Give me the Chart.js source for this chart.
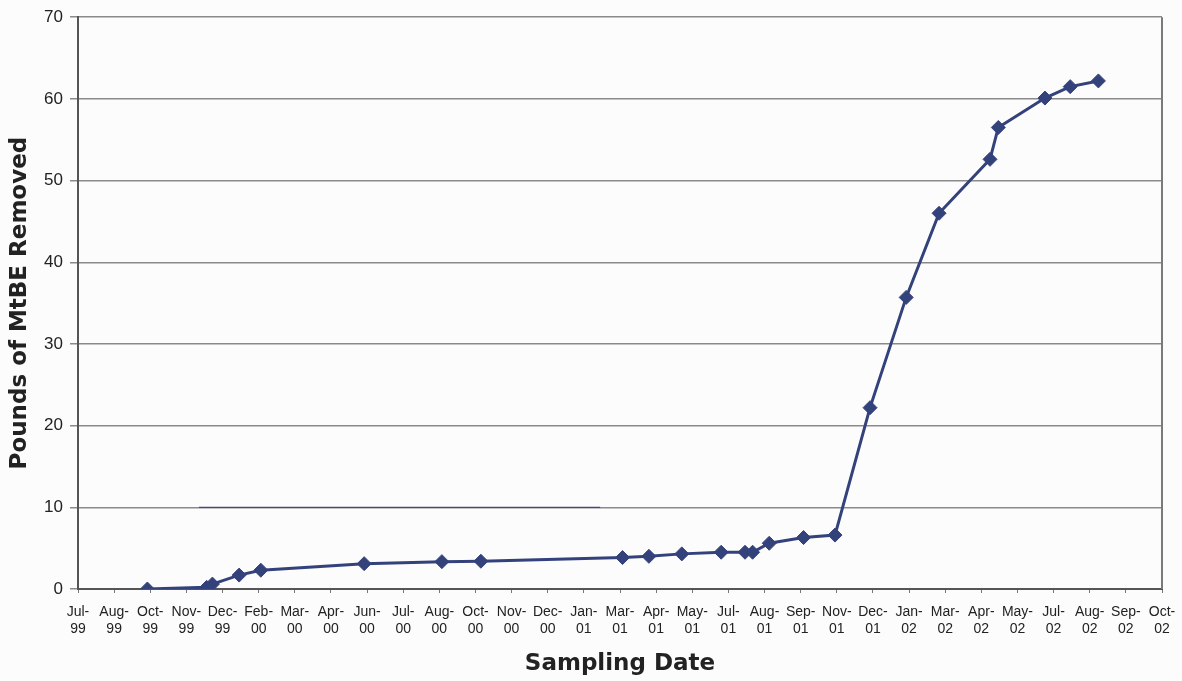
<!DOCTYPE html>
<html>
<head>
<meta charset="utf-8">
<script src="https://cdn.jsdelivr.net/npm/chart.js@4/dist/chart.umd.min.js"></script>
<style>
  html, body { margin: 0; padding: 0; background: #fcfcfc; }
  #wrap { width: 1182px; height: 681px; }
</style>
</head>
<body>
<div id="wrap"><canvas id="c" width="1182" height="681"></canvas></div>
<script>
// Tick labels for the date axis (one per major unit, evenly spaced)
const tickMonths = ["Jul","Aug","Oct","Nov","Dec","Feb","Mar","Apr","Jun","Jul","Aug","Oct","Nov","Dec","Jan","Mar","Apr","May","Jul","Aug","Sep","Nov","Dec","Jan","Mar","Apr","May","Jul","Aug","Sep","Oct"];
const tickYears  = ["99","99","99","99","99","00","00","00","00","00","00","00","00","00","01","01","01","01","01","01","01","01","01","02","02","02","02","02","02","02","02"];

// Sampling positions (in tick-interval units from Jul-99) and cumulative pounds removed
const sampleX = [1.92, 3.56, 3.72, 4.46, 5.06, 7.92, 10.07, 11.15, 15.07, 15.80, 16.71, 17.80, 18.46, 18.67, 19.13, 20.08, 20.95, 21.92, 22.92, 23.83, 25.24, 25.47, 26.76, 27.46, 28.24];
const poundsRemoved = [0.0, 0.2, 0.6, 1.7, 2.3, 3.1, 3.35, 3.4, 3.85, 4.0, 4.3, 4.5, 4.5, 4.5, 5.6, 6.3, 6.6, 22.2, 35.7, 46.0, 52.6, 56.5, 60.1, 61.5, 62.2];

// Stray blue rule visible on the 10 lb gridline of the scanned original
const strayX = [3.35, 14.45];
const strayY = [10, 10];

const yTicks = [0, 10, 20, 30, 40, 50, 60, 70];

const navy = '#34427c';

const frame = {
  id: 'frame',
  afterDraw(chart) {
    const a = chart.chartArea, ctx = chart.ctx;
    ctx.save();
    ctx.strokeStyle = '#7a7a7a';
    ctx.lineWidth = 2;
    ctx.beginPath();
    ctx.moveTo(a.right, a.top);
    ctx.lineTo(a.right, a.bottom);
    ctx.stroke();
    ctx.restore();
  }
};

new Chart(document.getElementById('c'), {
  type: 'line',
  data: {
    datasets: [
      {
        data: sampleX.map((x, i) => ({ x, y: poundsRemoved[i] })),
        borderColor: navy,
        backgroundColor: navy,
        borderWidth: 3,
        pointStyle: 'rectRot',
        pointRadius: 7,
        pointBorderWidth: 1,
        pointBorderColor: navy,
        pointBackgroundColor: navy,
        tension: 0,
        order: 1
      },
      {
        data: strayX.map((x, i) => ({ x, y: strayY[i] })),
        borderColor: '#3c4a86',
        borderWidth: 1.3,
        pointRadius: 0,
        tension: 0,
        order: 2
      }
    ]
  },
  options: {
    responsive: false,
    animation: false,
    devicePixelRatio: 1,
    layout: { padding: { left: 0, top: 11, right: 0, bottom: 0 } },
    plugins: { legend: { display: false }, tooltip: { enabled: false } },
    scales: {
      x: {
        type: 'linear',
        min: 0,
        max: tickMonths.length - 1,
        afterBuildTicks(scale) {
          scale.ticks = tickMonths.map((_, i) => ({ value: i }));
        },
        afterFit(scale) { scale.height = 92; scale.paddingRight = 20; },
        ticks: {
          autoSkip: false,
          maxRotation: 0,
          minRotation: 0,
          padding: 11,
          color: '#222',
          font: { family: 'Liberation Sans, Arial, sans-serif', size: 14, lineHeight: 1.2 },
          callback: (v) => [tickMonths[v] + '-', tickYears[v]]
        },
        grid: { drawOnChartArea: false, drawTicks: true, tickLength: 4, color: '#777' },
        border: { color: '#555', width: 2 },
        title: {
          display: true,
          text: 'Sampling Date',
          color: '#222',
          padding: { top: 0, bottom: 3 },
          font: { family: 'DejaVu Sans, sans-serif', size: 23, weight: 'bold' }
        }
      },
      y: {
        type: 'linear',
        min: 0,
        max: 70,
        afterBuildTicks(scale) {
          scale.ticks = yTicks.map(v => ({ value: v }));
        },
        afterFit(scale) { scale.width = 78; },
        ticks: {
          padding: 7,
          color: '#222',
          font: { family: 'Liberation Sans, Arial, sans-serif', size: 17 }
        },
        grid: { color: '#8a8a8a', lineWidth: 1.5, tickLength: 8, drawTicks: true },
        border: { color: '#555', width: 2 },
        title: {
          display: true,
          text: 'Pounds of MtBE Removed',
          color: '#222',
          padding: { top: 6, bottom: 0 },
          font: { family: 'DejaVu Sans, sans-serif', size: 23, weight: 'bold' }
        }
      }
    }
  },
  plugins: [frame]
});
</script>
</body>
</html>
